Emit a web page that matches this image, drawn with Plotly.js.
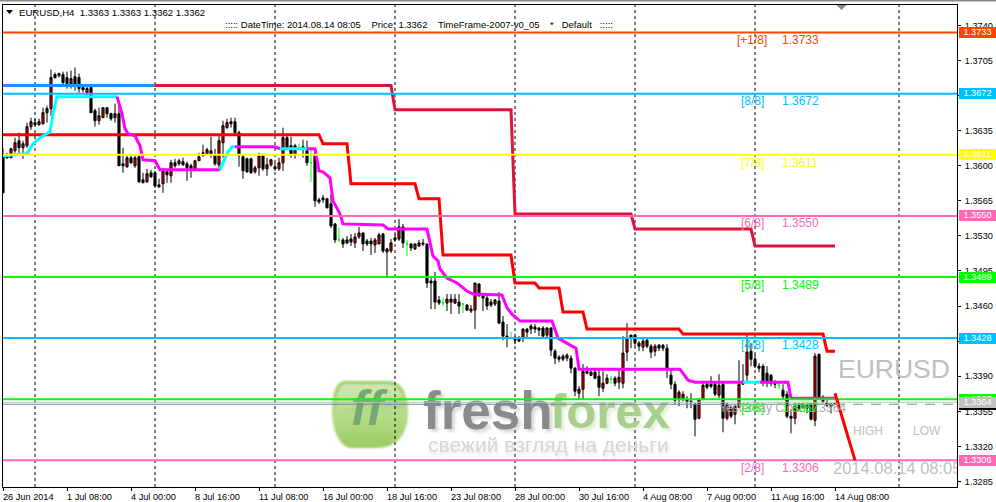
<!DOCTYPE html>
<html>
<head>
<meta charset="utf-8">
<script src="https://cdn.plot.ly/plotly-3.0.1.min.js"></script>
<style>
html,body{margin:0;padding:0;background:#fff;overflow:hidden}
#chart{width:996px;height:502px}
.scatterlayer .trace:nth-child(-n+3) text{filter:blur(1.6px)}
.scatterlayer .trace:nth-child(n+4):nth-child(-n+6) text{filter:blur(.45px)}
</style>
</head>
<body>
<div id="chart"></div>
<script>
const open_=[1.3610,1.3611,1.3608,1.3615,1.3625,1.3618,1.3620,1.3639,1.3643,1.3641,1.3642,1.3653,1.3657,1.3691,1.3692,1.3691,1.3688,1.3681,1.3689,1.3688,1.3678,1.3672,1.3678,1.3655,1.3645,1.3648,1.3658,1.3652,1.3648,1.3652,1.3602,1.3599,1.3608,1.3600,1.3609,1.3586,1.3584,1.3593,1.3593,1.3581,1.3582,1.3594,1.3590,1.3603,1.3602,1.3604,1.3602,1.3600,1.3597,1.3605,1.3610,1.3612,1.3615,1.3610,1.3601,1.3623,1.3638,1.3642,1.3644,1.3633,1.3609,1.3607,1.3607,1.3594,1.3598,1.3610,1.3597,1.3601,1.3599,1.3597,1.3603,1.3628,1.3620,1.3611,1.3618,1.3619,1.3615,1.3603,1.3612,1.3566,1.3568,1.3567,
1.3562,1.3542,1.3526,1.3526,1.3526,1.3527,1.3523,1.3529,1.3533,1.3525,1.3525,1.3521,1.3522,1.3532,1.3514,1.3515,1.3528,1.3527,1.3539,1.3522,1.3522,1.3517,1.3520,1.3523,1.3522,1.3485,1.3485,1.3466,1.3463,1.3463,1.3467,1.3463,1.3464,1.3462,1.3461,1.3457,1.3456,1.3482,1.3470,1.3468,1.3464,1.3462,1.3465,1.3444,1.3430,1.3428,1.3428,1.3427,1.3428,1.3437,1.3437,1.3439,1.3438,1.3438,1.3431,1.3438,1.3415,1.3409,1.3407,1.3408,1.3408,1.3398,1.3373,1.3377,1.3395,1.3394,1.3394,1.3390,1.3378,1.3383,1.3387,1.3388,1.3384,1.3383,1.3414,1.3431,1.3431,1.3423,1.3419,1.3426,1.3420,1.3415,1.3421,
1.3421,1.3418,1.3391,1.3382,1.3367,1.3367,1.3367,1.3365,1.3362,1.3348,1.3367,1.3382,1.3382,1.3382,1.3371,1.3382,1.3348,1.3359,1.3352,1.3359,1.3385,1.3391,1.3415,1.3407,1.3400,1.3400,1.3393,1.3391,1.3383,1.3381,1.3376,1.3372,1.3350,1.3348,1.3361,1.3362,1.3361,1.3362,1.3346,1.3412,1.3369,1.3363,1.3362,1.3363];
const high=[1.3617,1.3613,1.3618,1.3628,1.3633,1.3625,1.3643,1.3648,1.3647,1.3647,1.3658,1.3660,1.3696,1.3693,1.3693,1.3694,1.3694,1.3695,1.3698,1.3692,1.3680,1.3680,1.3680,1.3657,1.3658,1.3658,1.3658,1.3653,1.3662,1.3662,1.3618,1.3610,1.3610,1.3610,1.3612,1.3593,1.3597,1.3596,1.3595,1.3587,1.3598,1.3597,1.3606,1.3607,1.3607,1.3608,1.3604,1.3602,1.3606,1.3613,1.3621,1.3618,1.3629,1.3617,1.3630,1.3645,1.3647,1.3648,1.3648,1.3635,1.3612,1.3608,1.3608,1.3600,1.3613,1.3612,1.3608,1.3607,1.3603,1.3608,1.3638,1.3632,1.3629,1.3622,1.3622,1.3626,1.3625,1.3617,1.3618,1.3568,1.3571,1.3568,
1.3572,1.3543,1.3538,1.3528,1.3530,1.3532,1.3533,1.3539,1.3533,1.3527,1.3528,1.3528,1.3533,1.3533,1.3518,1.3527,1.3532,1.3547,1.3542,1.3526,1.3523,1.3522,1.3526,1.3527,1.3522,1.3490,1.3494,1.3470,1.3468,1.3472,1.3472,1.3472,1.3472,1.3463,1.3462,1.3461,1.3483,1.3483,1.3472,1.3470,1.3467,1.3467,1.3474,1.3450,1.3442,1.3434,1.3430,1.3430,1.3438,1.3438,1.3442,1.3442,1.3439,1.3440,1.3439,1.3439,1.3417,1.3411,1.3412,1.3413,1.3411,1.3399,1.3380,1.3402,1.3400,1.3398,1.3398,1.3397,1.3395,1.3392,1.3390,1.3390,1.3397,1.3430,1.3443,1.3431,1.3432,1.3425,1.3428,1.3427,1.3422,1.3422,1.3422,
1.3422,1.3422,1.3397,1.3385,1.3376,1.3375,1.3370,1.3373,1.3363,1.3368,1.3383,1.3385,1.3390,1.3385,1.3392,1.3385,1.3363,1.3361,1.3362,1.3406,1.3402,1.3432,1.3423,1.3412,1.3403,1.3402,1.3400,1.3392,1.3386,1.3383,1.3382,1.3375,1.3357,1.3362,1.3363,1.3363,1.3363,1.3363,1.3413,1.3412,1.3371,1.3366,1.3363,1.3363];
const low=[1.3573,1.3607,1.3608,1.3613,1.3610,1.3607,1.3618,1.3636,1.3640,1.3640,1.3641,1.3643,1.3650,1.3687,1.3688,1.3680,1.3677,1.3677,1.3675,1.3673,1.3673,1.3670,1.3653,1.3639,1.3641,1.3648,1.3648,1.3645,1.3643,1.3600,1.3593,1.3598,1.3602,1.3598,1.3583,1.3583,1.3583,1.3588,1.3578,1.3578,1.3573,1.3583,1.3583,1.3598,1.3600,1.3600,1.3585,1.3588,1.3595,1.3605,1.3609,1.3611,1.3608,1.3600,1.3598,1.3608,1.3637,1.3638,1.3630,1.3599,1.3587,1.3593,1.3592,1.3592,1.3590,1.3595,1.3590,1.3599,1.3595,1.3595,1.3595,1.3617,1.3608,1.3607,1.3617,1.3608,1.3600,1.3584,1.3559,1.3562,1.3563,1.3558,
1.3538,1.3523,1.3524,1.3518,1.3522,1.3520,1.3518,1.3527,1.3515,1.3520,1.3511,1.3513,1.3522,1.3513,1.3489,1.3513,1.3524,1.3525,1.3518,1.3510,1.3515,1.3516,1.3519,1.3520,1.3478,1.3457,1.3457,1.3461,1.3460,1.3455,1.3452,1.3462,1.3452,1.3453,1.3455,1.3453,1.3437,1.3470,1.3455,1.3456,1.3459,1.3460,1.3442,1.3426,1.3419,1.3427,1.3422,1.3424,1.3424,1.3428,1.3432,1.3433,1.3430,1.3428,1.3428,1.3410,1.3402,1.3404,1.3405,1.3405,1.3393,1.3370,1.3367,1.3367,1.3392,1.3390,1.3387,1.3370,1.3374,1.3382,1.3382,1.3380,1.3377,1.3378,1.3405,1.3418,1.3420,1.3415,1.3415,1.3418,1.3408,1.3410,1.3415,
1.3415,1.3388,1.3377,1.3362,1.3360,1.3365,1.3358,1.3358,1.3330,1.3347,1.3366,1.3377,1.3378,1.3370,1.3368,1.3334,1.3346,1.3348,1.3342,1.3358,1.3382,1.3383,1.3400,1.3398,1.3394,1.3380,1.3379,1.3380,1.3378,1.3377,1.3367,1.3348,1.3333,1.3342,1.3355,1.3357,1.3353,1.3346,1.3340,1.3368,1.3363,1.3359,1.3353,1.3362];
const close_=[1.3573,1.3608,1.3617,1.3623,1.3618,1.3622,1.3639,1.3644,1.3641,1.3644,1.3653,1.3657,1.3688,1.3688,1.3690,1.3683,1.3682,1.3687,1.3680,1.3677,1.3676,1.3677,1.3653,1.3645,1.3650,1.3658,1.3652,1.3647,1.3652,1.3600,1.3600,1.3608,1.3603,1.3608,1.3584,1.3583,1.3592,1.3589,1.3580,1.3579,1.3595,1.3591,1.3603,1.3600,1.3605,1.3601,1.3598,1.3597,1.3605,1.3609,1.3613,1.3616,1.3612,1.3602,1.3625,1.3640,1.3643,1.3644,1.3633,1.3610,1.3595,1.3594,1.3593,1.3598,1.3610,1.3597,1.3601,1.3606,1.3597,1.3603,1.3628,1.3618,1.3611,1.3620,1.3618,1.3617,1.3603,1.3603,1.3565,1.3564,1.3566,1.3558,
1.3540,1.3526,1.3526,1.3522,1.3523,1.3524,1.3529,1.3533,1.3522,1.3522,1.3522,1.3526,1.3531,1.3515,1.3517,1.3523,1.3526,1.3539,1.3523,1.3522,1.3518,1.3522,1.3523,1.3522,1.3483,1.3483,1.3464,1.3463,1.3463,1.3467,1.3464,1.3467,1.3460,1.3462,1.3456,1.3455,1.3483,1.3470,1.3468,1.3460,1.3461,1.3466,1.3443,1.3430,1.3428,1.3428,1.3426,1.3425,1.3437,1.3434,1.3440,1.3437,1.3436,1.3430,1.3438,1.3416,1.3408,1.3407,1.3410,1.3411,1.3398,1.3375,1.3377,1.3395,1.3393,1.3391,1.3388,1.3379,1.3383,1.3388,1.3387,1.3383,1.3389,1.3413,1.3428,1.3428,1.3423,1.3420,1.3425,1.3420,1.3414,1.3420,1.3418,
1.3418,1.3398,1.3382,1.3366,1.3374,1.3372,1.3365,1.3364,1.3347,1.3367,1.3381,1.3379,1.3380,1.3372,1.3381,1.3348,1.3362,1.3350,1.3360,1.3382,1.3382,1.3414,1.3407,1.3400,1.3398,1.3385,1.3385,1.3383,1.3382,1.3381,1.3370,1.3350,1.3348,1.3360,1.3358,1.3358,1.3358,1.3347,1.3410,1.3368,1.3365,1.3361,1.3360,1.3362];

const xTickBars=[0,16,32,48,64,80,96,112,128,144,160,176,192,208];
const xTickText=["26 Jun 2014","1 Jul 08:00","4 Jul 00:00","8 Jul 16:00","11 Jul 08:00","16 Jul 00:00","18 Jul 16:00","23 Jul 08:00","28 Jul 00:00","30 Jul 16:00","4 Aug 08:00","7 Aug 00:00","11 Aug 16:00","14 Aug 08:00"];
const yTicks=[1.3740,1.3705,1.3670,1.3635,1.3600,1.3565,1.3530,1.3495,1.3460,1.3425,1.3390,1.3355,1.3320,1.3285];
const separatorBars=[8,38,68,98,128,158,188,224];

const levelPrices=[1.3733,1.3672,1.3611,1.3550,1.3489,1.3428,1.3367,1.3306];
const levelNames=["[+1/8]","[8/8]","[7/8]","[6/8]","[5/8]","[4/8]","[3/8]","[2/8]"];
const levelColors=["#FF4500","#00BFFF","#FFFF00","#FF69B4","#00FF00","#00BFFF","#00FF00","#FF69B4"];

const blueBars=[0,38];
const bluePrices=[1.3680,1.3680];
const crimsonBars=[38,97,98,127,128,157,158,187,188,208];
const crimsonPrices=[1.3680,1.3680,1.3656,1.3656,1.3552,1.3552,1.3537,1.3537,1.3520,1.3520];
const redBars=[0,79,80,86,87,103,104,109,110,127,128,133,134,139,140,145,146,169,170,205,206,208];
const redPrices=[1.3631,1.3631,1.3622,1.3622,1.3582,1.3582,1.3567,1.3567,1.3511,1.3511,1.3483,1.3483,1.3478,1.3478,1.3454,1.3454,1.3437,1.3437,1.3432,1.3432,1.3415,1.3415];

const maBars=[0,6,7.5,9.25,11.75,12.5,13.5,28.5,29.75,30.5,31.25,33,34.25,35,38,39.25,54.25,56,57.25,58,68,69.25,76,78,79,80,81.75,82.5,84.25,85,95,96.25,106,106.75,107.5,108.75,109.25,111,113.5,116,117.5,124.75,126,127.25,129.25,137.25,138.75,142.25,143.25,144,164,169.25,171.25,173,185,189.25,196.25,197,208];
const maPrices=[1.3610,1.3612,1.3622,1.3628,1.3634,1.3652,1.3669,1.3669,1.3652,1.3637,1.3632,1.3630,1.3620,1.3606,1.3605,1.3596,1.3596,1.3612,1.3619,1.3619,1.3619,1.3617,1.3617,1.3617,1.3595,1.3594,1.3588,1.3565,1.3552,1.3542,1.3541,1.3537,1.3537,1.3522,1.3510,1.3505,1.3497,1.3488,1.3483,1.3475,1.3472,1.3471,1.3458,1.3452,1.3445,1.3445,1.3428,1.3420,1.3418,1.3397,1.3397,1.3397,1.3386,1.3384,1.3384,1.3384,1.3384,1.3368,1.3368];
const maCyanRanges=[[0,28.5],[54.25,58],[69.25,76],[185,189.25]];

const yesterdayClose=1.3364;
const lastPrice=1.3362;
const forecastBars=[208,213];
const forecastPrices=[1.3373,1.3306];

const W=996,H=502,L=3,R=957,T=5,B=487;
const xp=px=>(px-L)/(R-L);
const yp=py=>(B-py)/(B-T);
const barAt=px=>(px-L)/4;
const priceAt=py=>1.374-(py-25.5)/10020;
const FONT="Liberation Sans, Arial, sans-serif";

const isDoji=open_.map((o,i)=>o===close_[i]);
const bars=open_.map((_,i)=>i);
const pick=(arr,want)=>arr.filter((_,i)=>isDoji[i]===want);

function lineTrace(x,y,color,width,extra){
  return Object.assign({type:"scatter",mode:"lines",x,y,line:{color,width},hoverinfo:"skip",showlegend:false},extra||{});
}
function textTrace(px,py,text,color,size,pos,weight,family,style){
  return {type:"scatter",mode:"text",x:[barAt(px)],y:[priceAt(py)],text:[text],textposition:pos||"middle right",
    textfont:{color,size,family:family||FONT,weight:weight||400,style:style||"normal"},hoverinfo:"skip",showlegend:false,cliponaxis:true};
}

const traces=[];
traces.push(textTrace(426,419,"fresh","rgba(120,120,120,.28)",53,"middle right",700));
traces.push(textTrace(553,419,"forex","rgba(140,190,110,.25)",49,"middle right",700));
traces.push(textTrace(429,450,"свежий взгляд на деньги","rgba(190,190,190,.35)",21));
traces.push(textTrace(423,416,"fresh","#8b8b8b",53,"middle right",700));
traces.push(textTrace(550,416,"forex","#a9cf8c",49,"middle right",700));
traces.push(textTrace(428,447,"свежий взгляд на деньги","#d6d6d6",21));
traces.push(textTrace(351,412,"ff","#74a877",50,"middle right",700,FONT,"italic"));

traces.push({type:"candlestick",x:pick(bars,false),open:pick(open_,false),high:pick(high,false),low:pick(low,false),close:pick(close_,false),
  increasing:{line:{color:"#000",width:1},fillcolor:"#e00000"},decreasing:{line:{color:"#000",width:1},fillcolor:"#000"},
  whiskerwidth:0,hoverinfo:"skip",showlegend:false});
traces.push({type:"candlestick",x:pick(bars,true),open:pick(open_,true),high:pick(high,true),low:pick(low,true),close:pick(close_,true),
  increasing:{line:{color:"#00FF00",width:1},fillcolor:"#00FF00"},decreasing:{line:{color:"#00FF00",width:1},fillcolor:"#00FF00"},
  whiskerwidth:0,hoverinfo:"skip",showlegend:false});

traces.push(lineTrace(blueBars,bluePrices,"#1E90FF",3));
traces.push(lineTrace(crimsonBars,crimsonPrices,"#DC143C",3));
traces.push(lineTrace(redBars,redPrices,"#FF0000",3));

const isCyan=b=>maCyanRanges.some(r=>b>=r[0]&&b<r[1]);
let run={x:[maBars[0]],y:[maPrices[0]],cyan:isCyan(maBars[0])};
const runs=[run];
for(let i=1;i<maBars.length;i++){
  const c=isCyan(maBars[i-1]);
  if(c!==run.cyan){run={x:[maBars[i-1]],y:[maPrices[i-1]],cyan:c};runs.push(run);}
  run.x.push(maBars[i]);run.y.push(maPrices[i]);
}
runs.forEach(r=>traces.push(lineTrace(r.x,r.y,r.cyan?"#00FFFF":"#FF00FF",3)));

traces.push(lineTrace([0,238.5],[yesterdayClose,yesterdayClose],"#C0C0C0",1));
traces.push(lineTrace([0,208],[lastPrice,lastPrice],"#778899",1));
traces.push(lineTrace([208,238.5],[lastPrice,lastPrice],"#778899",1,{line:{color:"#778899",width:1,dash:"10px,8px"}}));

levelPrices.forEach((p,i)=>traces.push(lineTrace([0,238.5],[p,p],levelColors[i],2)));
traces.push(lineTrace(forecastBars,forecastPrices,"#FF0000",3));

traces.push(textTrace(838,371,"EURUSD","#C0C0C0",26.5));
traces.push(textTrace(853,432,"HIGH","#C0C0C0",12));
traces.push(textTrace(913,432,"LOW","#C0C0C0",12));
traces.push(textTrace(833,470,"2014.08.14 08:05","#C0C0C0",16.5));
traces.push(textTrace(719,409,"Yesterday Close 1.3364","#A9A9A9",12));

const annotations=[];
function note(px,py,text,color,size,anchor){
  annotations.push({xref:"paper",yref:"paper",x:xp(px),y:yp(py),text,showarrow:false,xanchor:anchor||"left",yanchor:"middle",
    font:{family:FONT,size,color},borderpad:0});
}
note(18,12.5,"EURUSD,H4&nbsp;&nbsp;1.3363 1.3363 1.3362 1.3362","#000",9.6);
note(224,25,"::::: DateTime: 2014.08.14 08:05&nbsp;&nbsp;&nbsp;&nbsp;Price: 1.3362&nbsp;&nbsp;&nbsp;&nbsp;TimeFrame-2007-v0_05&nbsp;&nbsp;&nbsp;&nbsp;*&nbsp;&nbsp;&nbsp;Default&nbsp;&nbsp;&nbsp;:::::","#000",9.5);
const labelY=[40.5,101.5,163,223,285,345.5,408,468];
levelPrices.forEach((p,i)=>{
  note(752,labelY[i],levelNames[i],levelColors[i],12,"center");
  note(781,labelY[i],p.toFixed(4),levelColors[i],12);
});
function tag(price,bg,fg){
  annotations.push({xref:"paper",yref:"y",x:xp(959),y:price,text:price.toFixed(4),showarrow:false,xanchor:"left",yanchor:"middle",
    width:37,height:10.5,align:"center",valign:"middle",bgcolor:bg,borderpad:0,borderwidth:0,font:{family:FONT,size:9.2,color:fg}});
}
tag(lastPrice,"#000","#000");
levelPrices.forEach((p,i)=>tag(p,levelColors[i],"#fff"));
tag(yesterdayClose,"#C0C0C0","#fff");

const shapes=separatorBars.map(b=>({type:"line",xref:"x",yref:"paper",x0:b,x1:b,y0:0,y1:1,layer:"below",line:{color:"#000",width:1,dash:"3px,3px"}}));
shapes.push({type:"rect",xref:"paper",yref:"paper",x0:xp(-1),x1:xp(997),y0:yp(0),y1:yp(1.6),fillcolor:"#8a8a8a",line:{width:0},layer:"above"});
const tri=(a,b,c)=>`M${xp(a[0])},${yp(a[1])} L${xp(b[0])},${yp(b[1])} L${xp(c[0])},${yp(c[1])} Z`;
shapes.push({type:"path",xref:"paper",yref:"paper",path:tri([6,10],[13,10],[9.5,14]),fillcolor:"#000",line:{width:0},layer:"above"});
shapes.push({type:"path",xref:"paper",yref:"paper",path:tri([836.5,5],[846.5,5],[841.5,10]),fillcolor:"#778899",line:{width:0},layer:"above"});

const logoSvg=`<svg xmlns="http://www.w3.org/2000/svg" width="84" height="76" viewBox="0 0 84 76"><defs><linearGradient id="g" x1="0" y1="0" x2="0" y2="1"><stop offset="0" stop-color="#9fcf6c"/><stop offset=".5" stop-color="#b6dc8c"/><stop offset="1" stop-color="#9bcc5e"/></linearGradient><linearGradient id="h" x1="0" y1="0" x2="0" y2="1"><stop offset="0" stop-color="#dff0cb"/><stop offset="1" stop-color="#b6dc8c"/></linearGradient><filter id="b"><feGaussianBlur stdDeviation="1.2"/></filter></defs><path filter="url(#b)" d="M17 4 L60 4 C75 4 80 18 80 36 C80 58 68 71 48 71 L24 71 C12 71 4 54 4 33 C4 16 8 4 17 4 Z" fill="url(#g)"/><path filter="url(#b)" d="M18 7 L58 7 C68 7 74 14 74 22 C60 17 30 28 9 36 C8 20 10 7 18 7 Z" fill="url(#h)" opacity=".75"/></svg>`;
const images=[{source:"data:image/svg+xml;charset=utf-8,"+encodeURIComponent(logoSvg),xref:"paper",yref:"paper",x:xp(328),y:yp(377),sizex:84/(R-L),sizey:76/(B-T),xanchor:"left",yanchor:"top",sizing:"stretch",layer:"below"}];

const layout={
  width:W,height:H,margin:{l:L,r:W-R,t:T,b:H-B,pad:0},paper_bgcolor:"#fff",plot_bgcolor:"rgba(0,0,0,0)",showlegend:false,
  boxgap:0.25,
  font:{family:FONT,size:9.2,color:"#000"},
  xaxis:{type:"linear",range:[0,238.5],rangeslider:{visible:false},showgrid:false,zeroline:false,showline:true,mirror:true,linecolor:"#000",linewidth:1,
    tickmode:"array",tickvals:xTickBars,ticktext:xTickText,ticks:"outside",ticklen:3,tickwidth:1,tickcolor:"#000",tickangle:0.01,ticklabelstandoff:-2,tickfont:{family:FONT,size:9.2,color:"#000"},automargin:false},
  yaxis:{type:"linear",side:"right",range:[priceAt(B),priceAt(T)],showgrid:false,zeroline:false,showline:true,mirror:true,linecolor:"#000",linewidth:1,
    tickmode:"array",tickvals:yTicks,ticktext:yTicks.map(v=>v.toFixed(4)),ticks:"outside",ticklen:3,tickwidth:1,tickcolor:"#000",ticklabelstandoff:2,tickfont:{family:FONT,size:9.2,color:"#000"},automargin:false},
  shapes,annotations,images
};
Plotly.newPlot("chart",traces,layout,{displayModeBar:false,staticPlot:true});
</script>
</body>
</html>
